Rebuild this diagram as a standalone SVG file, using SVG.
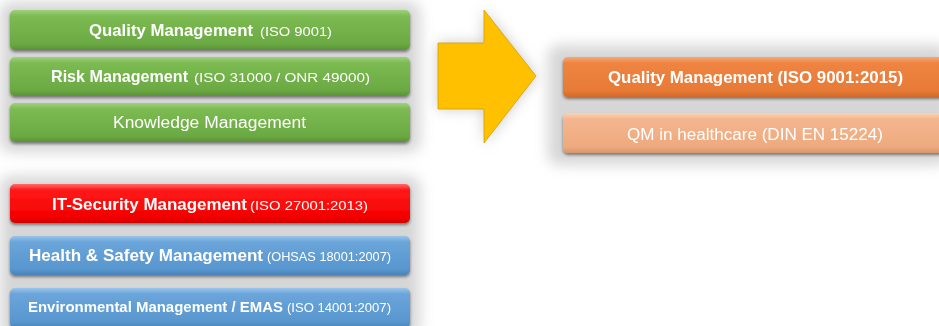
<svg xmlns="http://www.w3.org/2000/svg" width="939" height="326" viewBox="0 0 939 326">
<defs>
<filter id="blur" x="-20%" y="-20%" width="140%" height="140%"><feGaussianBlur stdDeviation="7"/></filter>
<filter id="sh" x="-5%" y="-20%" width="110%" height="150%"><feGaussianBlur in="SourceAlpha" stdDeviation="1.5"/><feOffset dy="2"/><feComponentTransfer><feFuncA type="linear" slope="0.45"/></feComponentTransfer><feMerge><feMergeNode/><feMergeNode in="SourceGraphic"/></feMerge></filter>
<linearGradient id="gG" x1="0" y1="0" x2="0" y2="1"><stop offset="0" stop-color="#9fd27c"/><stop offset="0.15" stop-color="#7cbb52"/><stop offset="0.85" stop-color="#6ba943"/><stop offset="1" stop-color="#5a9237"/></linearGradient>
<linearGradient id="gR" x1="0" y1="0" x2="0" y2="1"><stop offset="0" stop-color="#ff6b6b"/><stop offset="0.15" stop-color="#ff1a1a"/><stop offset="0.85" stop-color="#f40000"/><stop offset="1" stop-color="#d00000"/></linearGradient>
<linearGradient id="gB" x1="0" y1="0" x2="0" y2="1"><stop offset="0" stop-color="#9cc4ea"/><stop offset="0.15" stop-color="#6aa5da"/><stop offset="0.85" stop-color="#5896cf"/><stop offset="1" stop-color="#4a82b8"/></linearGradient>
<linearGradient id="gO" x1="0" y1="0" x2="0" y2="1"><stop offset="0" stop-color="#f6a874"/><stop offset="0.15" stop-color="#ef8443"/><stop offset="0.85" stop-color="#e77a35"/><stop offset="1" stop-color="#cf6a2a"/></linearGradient>
<linearGradient id="gL" x1="0" y1="0" x2="0" y2="1"><stop offset="0" stop-color="#fbd4b4"/><stop offset="0.15" stop-color="#f4b58e"/><stop offset="0.85" stop-color="#eeaa7e"/><stop offset="1" stop-color="#d9966c"/></linearGradient>
<style>
.t{font-family:"Liberation Sans",Arial,sans-serif;fill:#fff;}
.b{font-weight:bold;}
.panel{fill:#d6d6d6;filter:url(#blur);}
</style>
</defs>
<g id="backgrounds">
<rect class="panel" x="0" y="2" width="420" height="150" rx="10"/>
<rect class="panel" x="0" y="176" width="420" height="160" rx="10"/>
<rect class="panel" x="548" y="45" width="400" height="120" rx="10"/>
<path d="M438,43 H484 V10 L536,76 L484,143 V109 H438 Z" fill="#c8c8c8" filter="url(#blur)"/>
</g>
<g id="arrow">
<path d="M438,43 H484 V10 L536,76 L484,143 V109 H438 Z" fill="#ffc000" stroke="#d4a000" stroke-width="0.8"/>
</g>
<g id="qm" filter="url(#sh)">
<rect x="10" y="10" width="400" height="40" rx="5" fill="url(#gG)"/>
<text class="t" y="36"><tspan class="b" x="89" font-size="16.5" textLength="164" lengthAdjust="spacingAndGlyphs">Quality Management</tspan><tspan x="260" font-size="13.5" textLength="72" lengthAdjust="spacingAndGlyphs">(ISO 9001)</tspan></text>
</g>
<g id="rm" filter="url(#sh)">
<rect x="10" y="57" width="400" height="39" rx="5" fill="url(#gG)"/>
<text class="t" y="82"><tspan class="b" x="51" font-size="16.5" textLength="137" lengthAdjust="spacingAndGlyphs">Risk Management</tspan><tspan x="194" font-size="13.5" textLength="176" lengthAdjust="spacingAndGlyphs">(ISO 31000 / ONR 49000)</tspan></text>
</g>
<g id="km" filter="url(#sh)">
<rect x="10" y="103" width="400" height="39" rx="5" fill="url(#gG)"/>
<text class="t" y="128"><tspan x="113" font-size="16" textLength="193" lengthAdjust="spacingAndGlyphs">Knowledge Management</tspan></text>
</g>
<g id="itsec" filter="url(#sh)">
<rect x="10" y="184" width="400" height="39" rx="5" fill="url(#gR)"/>
<text class="t" y="210"><tspan class="b" x="52" font-size="17" textLength="195" lengthAdjust="spacingAndGlyphs">IT-Security Management</tspan><tspan x="250" font-size="13.5" textLength="118" lengthAdjust="spacingAndGlyphs">(ISO 27001:2013)</tspan></text>
</g>
<g id="hs" filter="url(#sh)">
<rect x="10" y="236" width="400" height="39" rx="5" fill="url(#gB)"/>
<text class="t" y="261"><tspan class="b" x="29" font-size="16" textLength="234" lengthAdjust="spacingAndGlyphs">Health &amp; Safety Management</tspan><tspan x="267" font-size="12" textLength="124" lengthAdjust="spacingAndGlyphs">(OHSAS 18001:2007)</tspan></text>
</g>
<g id="env" filter="url(#sh)">
<rect x="10" y="288" width="400" height="40" rx="5" fill="url(#gB)"/>
<text class="t" y="312"><tspan class="b" x="28" font-size="14" textLength="255" lengthAdjust="spacingAndGlyphs">Environmental Management / EMAS</tspan><tspan x="287" font-size="12" textLength="104" lengthAdjust="spacingAndGlyphs">(ISO 14001:2007)</tspan></text>
</g>
<g id="qm2015" filter="url(#sh)">
<rect x="563" y="57" width="390" height="40" rx="5" fill="url(#gO)"/>
<text class="t" y="83"><tspan class="b" x="608" font-size="16" textLength="295" lengthAdjust="spacingAndGlyphs">Quality Management (ISO 9001:2015)</tspan></text>
</g>
<g id="qmhc" filter="url(#sh)">
<rect x="563" y="113" width="390" height="40" rx="5" fill="url(#gL)"/>
<text class="t" y="140"><tspan x="627" font-size="16" textLength="256" lengthAdjust="spacingAndGlyphs">QM in healthcare (DIN EN 15224)</tspan></text>
</g>
</svg>
